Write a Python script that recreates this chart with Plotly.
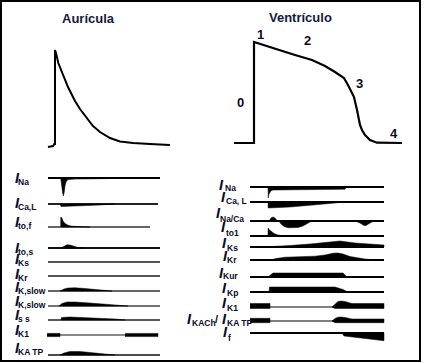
import plotly.graph_objects as go

W, H = 424, 363

# ======================= DATA =======================
# Atrial action potential: time from upstroke, potential above rest (arbitrary px units)
atrial_time = [-7, -2, -0.7, 0, 0, 1, 3.3, 6.7, 10, 13, 17, 20, 25, 32, 38, 45, 55, 65, 78, 95, 115]
atrial_volt = [-1, 0, 2, 2, 96, 93, 83, 74, 66, 59, 51, 45, 37, 28, 20, 14, 8, 4.5, 3, 2, 1]

# Ventricular action potential
vent_time = [-20, 0, 0, 12, 25, 41, 58, 71, 81, 86, 90, 95, 100, 103, 106, 108, 111, 116, 123, 148]
vent_volt = [0, 0, 101, 97, 93, 88, 83, 77, 71, 68, 65, 56, 46, 33, 18, 13, 8, 3, 0.3, 0]

phase_names = ["0", "1", "2", "3", "4"]
phase_time = [-13.5, 6.5, 53, 105.5, 139.5]
phase_volt = [41, 109, 103, 60, 10]

# ---- Atrial currents: each is a list of lobes (time, upper envelope, lower envelope) ----
atrial_names = ["Na", "Ca,L", "to,f", "to,s", "Ks", "Kr", "K,slow", "K,slow", "s s", "K1", "KA TP"]
a_INa = [([0.7, 1.5, 2.5, 3.3, 4.3, 5, 6, 8, 15, 40, 90],
          [0] * 11,
          [0, -8, -14, -18, -14, -8, -4, -1.6, -1.1, -0.7, -0.3])]
a_ICaL = [([0, 1, 5, 20, 40, 55], [0] * 6, [0, -2.5, -3, -2, -1, 0])]
a_Itof = [([0.7, 0.8, 2, 3, 5, 8, 12, 20, 30], [0, 10, 9, 6, 3.5, 1.8, 0.8, 0.3, 0], [0] * 9)]
a_Itos = [([1, 4, 7, 10, 14, 18, 25], [0, 2, 3.3, 3, 1.5, 0.5, 0], [0] * 7)]
a_IKs = []
a_IKr = []
a_IKslow1 = [([0, 4, 8, 15, 25, 35, 45, 52], [0, 2, 3, 3.2, 2.5, 1.5, 0.7, 0], [0] * 8)]
a_IKslow2 = [([-1, 2, 7, 15, 30, 45, 60, 68], [0, 2.5, 4, 4, 3, 1.7, 0.6, 0], [0] * 8)]
a_Iss = [([1, 1.5, 10, 25, 40, 55, 65], [0, 2.5, 3, 2.5, 1.7, 1, 0], [0] * 7)]
a_IK1 = [([-13, 0], [1.6, 1.6], [-1.6, -1.6]), ([65, 98], [1.6, 1.6], [-1.6, -1.6])]
a_IKATP = [([0, 4, 10, 20, 35, 45, 55], [0, 2, 3.5, 3.5, 2, 1, 0], [0] * 7)]
atrial_currents = [a_INa, a_ICaL, a_Itof, a_Itos, a_IKs, a_IKr, a_IKslow1, a_IKslow2, a_Iss, a_IK1, a_IKATP]
atrial_sweeps = [(-12, 100), (-12, 98), (-12, 90), (-12, 100), (-12, 100), (-12, 100),
                 (-12, 100), (-12, 100), (-12, 100), (-13, 98), (-12, 100)]

# ---- Ventricular currents ----
vent_names = ["Na", "Ca, L", "Na/Ca", "to1", "Ks", "Kr", "Kur", "Kp", "K1", "KA TP", "f"]
v_INa = [([0, 0.3, 1, 2, 3, 5, 8, 12, 77, 79],
          [0] * 10,
          [0, -11, -7, -5, -3.8, -3, -2.6, -2.4, -2.2, 0])]
v_ICaL = [([0, 0.2, 22, 45, 70, 74], [0] * 6, [0, -6, -5, -3, -0.7, 0])]
v_INaCa = [([1, 3, 5, 7, 9, 11], [0, 3, 4, 3, 0.5, 0], [0] * 6),
           ([11, 13, 16, 20, 25, 30, 35, 39, 42, 44], [0] * 10, [0, -3, -5.5, -6.8, -7, -6.5, -5, -3, -1, 0]),
           ([87, 92, 96, 98, 102, 106], [0] * 6, [0, -2, -4.5, -4.5, -2, 0])]
v_Ito1 = [([0, 0.1, 1, 3, 6, 10, 14, 17], [0, 8, 6.5, 4.5, 2.5, 1, 0.3, 0], [0] * 8)]
v_IKs = [([-6, 12, 22, 42, 57, 72, 87, 102, 116], [0, 0.6, 1.5, 3, 4.5, 6, 4, 2.8, 2], [0] * 9)]
v_IKr = [([2, 8, 17, 32, 47, 57, 65, 70, 75, 82, 89, 97, 104, 116],
          [0, 1.5, 2.8, 3.2, 3.8, 5, 6.8, 7, 6, 3.5, 2, 1, 0.3, 0], [0] * 14)]
v_IKur = [([0, 5, 75, 79], [0, 4, 4, 0], [0] * 4)]
v_IKp = [([1, 1.5, 67, 75, 80], [0, 5, 5, 2.5, 0], [0] * 5)]
v_IK1 = [([-18, 2], [3.5, 3.5], [-1.5, -1.5]),
         ([64, 67, 70, 73, 77, 82, 84, 116], [0, 3, 5.5, 6, 5.5, 4, 3.5, 3.5],
          [0, -1.5, -1.5, -1.5, -1.5, -1.5, -1.5, -1.5])]
v_IKATP = [([-18, 2], [2.7, 2.7], [-1.7, -1.7]),
           ([64, 67, 70, 73, 77, 82, 84, 116], [0, 2.5, 3.8, 4, 3.5, 2.5, 2, 2],
            [0, -1.7, -1.7, -1.7, -1.7, -1.7, -1.7, -1.7])]
v_If = [([74, 76, 116], [0, 0, 0], [0, -3, -7.7])]
vent_currents = [v_INa, v_ICaL, v_INaCa, v_Ito1, v_IKs, v_IKr, v_IKur, v_IKp, v_IK1, v_IKATP, v_If]
vent_sweeps = [(-18, 116)] * 11

# ======================= LAYOUT (positions / styles) =======================
atrial_ap_origin = (55, 146)
vent_ap_origin = (254, 143)
atrial_cur_x0 = 60
vent_cur_x0 = 268
atrial_rows = [178, 204, 227, 248, 262, 276, 291, 306, 320, 335, 355]
vent_rows = [187, 202, 221, 236, 247, 260, 277, 292, 307, 321, 333]

atrial_line_w = [1.8, 1.8, 1.6, 1.8, 2, 2, 1.5, 1.5, 1.5, 1.2, 1.6]
atrial_line_c = ["#000", "#222", "#333", "#111", "#555", "#555", "#333", "#444", "#222", "#111", "#111"]
vent_line_w = [2, 2, 2, 2, 2, 2, 2, 2, 1, 1, 2]

a_I_y = [178, 202.5, 222, 247.5, 258.5, 273.5, 287, 301, 315, 330, 348]
a_I_x = 17
a_sub_x = 17
v_I_x = [221, 223, 218, 223.5, 224, 225, 221, 224, 224, 224, 225.5]
v_I_y = [185, 197, 213, 227, 242.5, 256, 272.5, 288, 303, 319, 332]
v_sub_x = [223.5, 224.5, 218.5, 224.5, 225.5, 225.5, 221.5, 225.5, 225.5, 225.5, 226.5]
v_sub_y = [187.5, 201, 219, 233, 247.5, 260, 276, 293, 307.5, 322.5, 338]

TXT = "#0a0a2a"
FONT = "Arial, Liberation Sans, sans-serif"

fig = go.Figure()
axes = {
    "xaxis": dict(range=[0, W], domain=[0, 1], visible=False, fixedrange=True),
    "yaxis": dict(range=[H, 0], domain=[0, 1], visible=False, fixedrange=True),
}
counter = {"x": 1, "y": 1}


def new_x(origin):
    counter["x"] += 1
    n = counter["x"]
    axes[f"xaxis{n}"] = dict(range=[-origin, W - origin], overlaying="x", visible=False, fixedrange=True)
    return f"x{n}"


def new_y(base):
    counter["y"] += 1
    n = counter["y"]
    axes[f"yaxis{n}"] = dict(range=[base - H, base], overlaying="y", visible=False, fixedrange=True)
    return f"y{n}"


def line(xa, ya, x, y, w=2, c="black"):
    fig.add_trace(go.Scatter(x=x, y=y, mode="lines", line=dict(color=c, width=w),
                             xaxis=xa, yaxis=ya, hoverinfo="skip", showlegend=False))


def lobe(xa, ya, t, up, lo):
    fig.add_trace(go.Scatter(x=list(t) + list(t)[::-1], y=list(up) + list(lo)[::-1],
                             mode="lines", fill="toself", fillcolor="black",
                             line=dict(color="black", width=0.5),
                             xaxis=xa, yaxis=ya, hoverinfo="skip", showlegend=False))


# Action potentials
xa = new_x(atrial_ap_origin[0]); ya = new_y(atrial_ap_origin[1])
line(xa, ya, atrial_time, atrial_volt, 2)
xv = new_x(vent_ap_origin[0]); yv = new_y(vent_ap_origin[1])
line(xv, yv, vent_time, vent_volt, 2.2)

ann = []
for name, t, v in zip(phase_names, phase_time, phase_volt):
    ann.append(dict(text=f"<b>{name}</b>", x=t, y=v, xref=xv, yref=yv, showarrow=False,
                    font=dict(size=13, color=TXT, family=FONT), xanchor="center", yanchor="middle"))

# Currents
xac = new_x(atrial_cur_x0)
for i, cur in enumerate(atrial_currents):
    yr = new_y(atrial_rows[i])
    t0, t1 = atrial_sweeps[i]
    line(xac, yr, [t0, t1], [0, 0], atrial_line_w[i], atrial_line_c[i])
    for t, up, lo in cur:
        lobe(xac, yr, t, up, lo)

xvc = new_x(vent_cur_x0)
for i, cur in enumerate(vent_currents):
    yr = new_y(vent_rows[i])
    t0, t1 = vent_sweeps[i]
    line(xvc, yr, [t0, t1], [0, 0], vent_line_w[i], "black")
    for t, up, lo in cur:
        lobe(xvc, yr, t, up, lo)

# Titles
ann.append(dict(text="<b>Aurícula</b>", x=88, y=18, xref="x", yref="y", showarrow=False,
                font=dict(size=13, color="#141a3c", family=FONT)))
ann.append(dict(text="<b>Ventrículo</b>", x=300, y=17, xref="x", yref="y", showarrow=False,
                font=dict(size=13, color="#141a3c", family=FONT)))


def I_label(x, y):
    ann.append(dict(text="<b><i>I</i></b>", x=x, y=y, xref="x", yref="y", showarrow=False,
                    xanchor="center", yanchor="middle", borderpad=0,
                    font=dict(size=14.5, color=TXT, family=FONT)))


def sub_label(text, x, y):
    ann.append(dict(text=f"<b>{text}</b>", x=x, y=y, xref="x", yref="y", showarrow=False,
                    xanchor="left", yanchor="middle", borderpad=0,
                    font=dict(size=8.5, color=TXT, family=FONT)))


for i, name in enumerate(atrial_names):
    I_label(a_I_x, a_I_y[i])
    sub_label(name, a_sub_x, a_I_y[i] + 4)

for i, name in enumerate(vent_names):
    I_label(v_I_x[i], v_I_y[i])
    sub_label(name, v_sub_x[i], v_sub_y[i])

I_label(189.5, 319)
sub_label("KACh", 190.5, 322.5)
ann.append(dict(text="<b>/</b>", x=216.5, y=319, xref="x", yref="y", showarrow=False,
                font=dict(size=11, color=TXT, family=FONT)))

fig.update_layout(
    width=W, height=H, margin=dict(l=0, r=0, t=0, b=0, pad=0),
    paper_bgcolor="white", plot_bgcolor="white",
    annotations=ann,
    shapes=[dict(type="rect", xref="x", yref="y", x0=1, y0=1, x1=420, y1=361,
                 line=dict(color="black", width=2))],
    **axes,
)
fig.write_html("out.html", config={"displayModeBar": False},
               post_script="document.body.style.margin='0px';document.body.style.padding='0px';")
